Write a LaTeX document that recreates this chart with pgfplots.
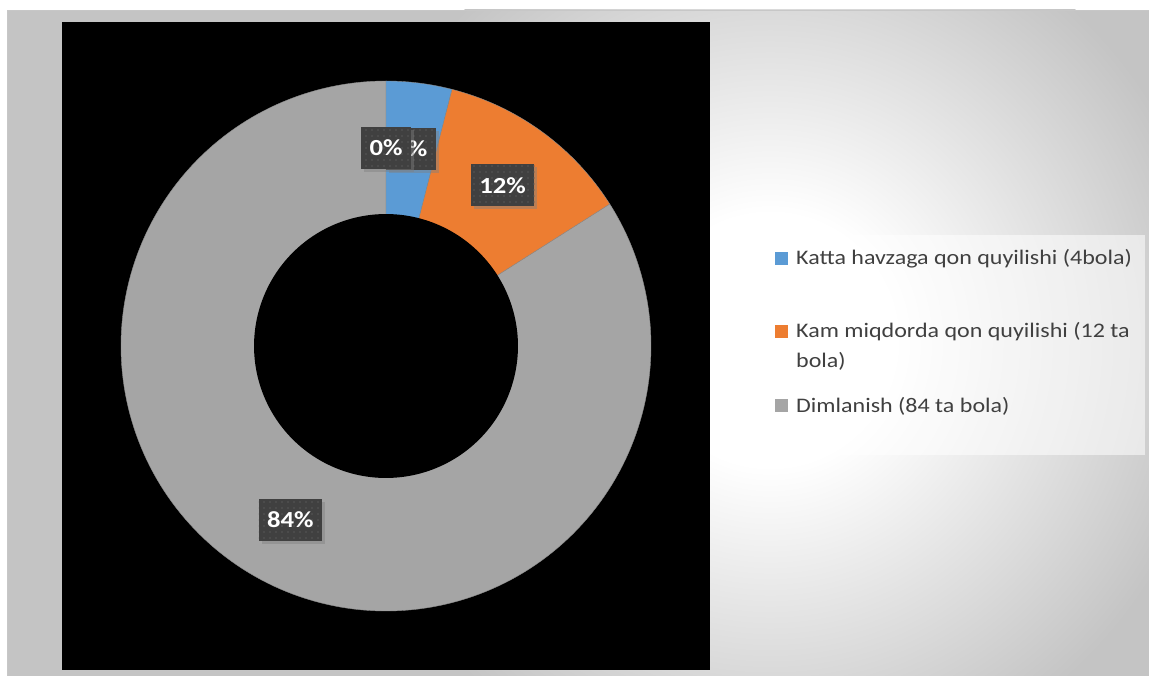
\documentclass[border=0pt]{standalone}
\usepackage{pgfplots}
\pgfplotsset{compat=1.18}
\usepackage{pgfplotstable}
\usepackage{fontspec}
\setmainfont{Carlito}[FakeStretch=1.16]
\usetikzlibrary{patterns.meta,shadows}
\definecolor{cblue}{HTML}{5B9BD5}
\definecolor{corange}{HTML}{ED7D31}
\definecolor{cgray}{HTML}{A5A5A5}
\definecolor{lblbox}{HTML}{404040}
\definecolor{lbldot}{HTML}{575757}
\definecolor{legtext}{HTML}{404040}
\definecolor{bgout}{HTML}{C4C4C4}
\pgfdeclareradialshading{bgshade}{\pgfpoint{0bp}{0bp}}{color(0bp)=(white); color(7bp)=(white); color(25bp)=(bgout); color(50bp)=(bgout)}

\pgfplotstableread{
value
4
12
84
0
}\datatable

\begin{document}
\begin{tikzpicture}[x=1pt,y=1pt,
  lbl/.style={fill=lblbox, text=white, font=\bfseries\fontsize{23}{26}\selectfont,
    inner xsep=8.5pt, inner ysep=0pt, minimum height=42pt,
    drop shadow={shadow xshift=3pt, shadow yshift=-3pt, opacity=0.45},
    postaction={pattern={Dots[distance=6pt, radius=0.9pt]}, pattern color=lbldot}}]
\useasboundingbox (0pt,0pt) rectangle (1149pt,-676pt);
\fill[white] (0pt,0pt) rectangle (1149pt,-676pt);
\begin{scope}
\clip (7pt,-10pt) rectangle (1149pt,-676pt);
\fill[bgout] (7pt,-10pt) rectangle (1149pt,-676pt);
\shade[shading=bgshade] (770pt,-340pt) circle (450pt);
\end{scope}
\draw[color=black!22, line width=1pt] (7.5pt,-676pt) -- (7.5pt,-10.5pt) -- (1149pt,-10.5pt);
\fill[black] (62pt,-22pt) rectangle (710pt,-670pt);

\pgfplotstablegetelem{0}{value}\of\datatable \pgfmathsetmacro\va{\pgfplotsretval}
\pgfplotstablegetelem{1}{value}\of\datatable \pgfmathsetmacro\vb{\pgfplotsretval}
\pgfplotstablegetelem{2}{value}\of\datatable \pgfmathsetmacro\vc{\pgfplotsretval}
\pgfplotstablegetelem{3}{value}\of\datatable \pgfmathsetmacro\vd{\pgfplotsretval}
\pgfmathsetmacro\tot{\va+\vb+\vc+\vd}
\pgfmathsetmacro\aA{90}
\pgfmathsetmacro\aB{\aA-360*(\va/\tot)}
\pgfmathsetmacro\aC{\aB-360*(\vb/\tot)}
\pgfmathsetmacro\aD{\aC-360*(\vc/\tot)}
\pgfmathsetmacro\aE{\aD-360*(\vd/\tot)}
\pgfmathsetmacro\xA{0.749*cos((\aA+\aB)/2)}\pgfmathsetmacro\yA{0.749*sin((\aA+\aB)/2)}
\pgfmathsetmacro\xB{0.749*cos((\aB+\aC)/2)}\pgfmathsetmacro\yB{0.749*sin((\aB+\aC)/2)}
\pgfmathsetmacro\xC{0.749*cos((\aC+\aD)/2)}\pgfmathsetmacro\yC{0.749*sin((\aC+\aD)/2)}
\pgfmathsetmacro\xD{0.749*cos((\aD+\aE)/2)}\pgfmathsetmacro\yD{0.749*sin((\aD+\aE)/2)}

\begin{axis}[at={(62pt,-670pt)}, anchor=south west, width=648pt, height=648pt,
  scale only axis, hide axis, clip=false,
  xmin=-1.2226, xmax=1.2226, ymin=-1.2226, ymax=1.2226]
\addplot[fill=cgray, draw=black!45, line width=0.4pt, domain=\aD:\aC, samples=200] ({cos(x)},{sin(x)}) -- (axis cs:0,0) -- cycle;
\addplot[fill=corange, draw=black!45, line width=0.4pt, domain=\aC:\aB, samples=60] ({cos(x)},{sin(x)}) -- (axis cs:0,0) -- cycle;
\addplot[fill=cblue, draw=black!45, line width=0.4pt, domain=\aB:\aA, samples=30] ({cos(x)},{sin(x)}) -- (axis cs:0,0) -- cycle;
\addplot[fill=black, draw=none, domain=0:360, samples=240] ({0.498*cos(x)},{0.498*sin(x)}) -- cycle;
\node[lbl] at (axis cs:\xA,\yA) {4\%};
\node[lbl] at (axis cs:\xB,\yB) {12\%};
\node[lbl] at (axis cs:\xC,\yC) {84\%};
\node[lbl] at (axis cs:\xD,\yD) {0\%};
\end{axis}

% legend
\fill[white, opacity=0.55] (763pt,-235pt) rectangle (1145pt,-455pt);
\begin{scope}[every node/.style={anchor=base west, text=legtext, font=\fontsize{20.7}{24}\selectfont, inner sep=0pt}]
\fill[cblue] (775pt,-252pt) rectangle (788pt,-265pt);
\node at (796pt,-265pt) {Katta havzaga qon quyilishi (4bola)};
\fill[corange] (775pt,-325pt) rectangle (788pt,-338pt);
\node at (796pt,-338pt) {Kam miqdorda qon quyilishi (12 ta};
\node at (796pt,-367pt) {bola)};
\fill[cgray] (775pt,-399pt) rectangle (788pt,-412pt);
\node at (796pt,-412pt) {Dimlanish (84 ta bola)};
\end{scope}
\end{tikzpicture}
\end{document}
